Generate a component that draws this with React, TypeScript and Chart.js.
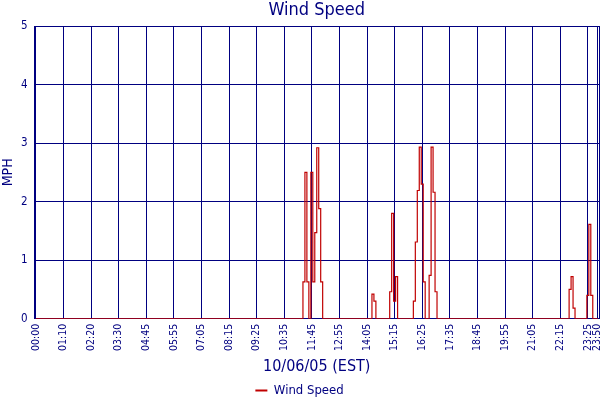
import { useEffect, useRef } from 'react';
import { Chart, registerables } from 'chart.js';

Chart.register(...registerables);

const TITLE = 'Wind Speed';
const X_TITLE = '10/06/05 (EST)';
const Y_TITLE = 'MPH';
const SERIES_NAME = 'Wind Speed';

// Readings every 5 minutes over the day; one slot is absent from the log.
const FIRST_MINUTE = 0;
const LAST_MINUTE = 23 * 60 + 50;
const STEP_MINUTES = 5;
const MISSING_TIMES = ['04:00'];

const TICK_LABELS = [
  '00:00', '01:10', '02:20', '03:30', '04:45', '05:55', '07:05', '08:15', '09:25', '10:35', '11:45',
  '12:55', '14:05', '15:15', '16:25', '17:35', '18:45', '19:55', '21:05', '22:15', '23:25', '23:50',
];

// Non-zero wind readings (MPH); every other reading of the day is 0.
const READING_TIMES = [
  '11:25', '11:30', '11:35', '11:45', '11:50', '11:55', '12:00', '12:05', '12:10',
  '14:20', '14:25',
  '15:05', '15:10', '15:15', '15:20',
  '16:05', '16:10', '16:15', '16:20', '16:25', '16:30',
  '16:45', '16:50', '16:55', '17:00',
  '22:40', '22:45', '22:50',
  '23:25', '23:30', '23:35',
];
const READING_VALUES = [
  0.63, 2.5, 0.63, 2.5, 0.63, 1.47, 2.92, 1.88, 0.63,
  0.42, 0.3,
  0.46, 1.8, 0.3, 0.72,
  0.3, 1.31, 2.19, 2.93, 2.3, 0.63,
  0.74, 2.93, 2.16, 0.46,
  0.5, 0.72, 0.18,
  0.4, 1.61, 0.4,
];

const Y_MIN = 0;
const Y_MAX = 5;
const Y_STEP = 1;

const pad2 = (n: number) => String(n).padStart(2, '0');
const fmt = (m: number) => `${pad2(Math.floor(m / 60))}:${pad2(m % 60)}`;

const CATEGORIES: string[] = [];
for (let m = FIRST_MINUTE; m <= LAST_MINUTE; m += STEP_MINUTES) {
  const t = fmt(m);
  if (!MISSING_TIMES.includes(t)) CATEGORIES.push(t);
}
const VALUES = CATEGORIES.map((t) => {
  const k = READING_TIMES.indexOf(t);
  return k >= 0 ? READING_VALUES[k] : 0;
});
const TICK_INDICES = TICK_LABELS.map((t) => CATEGORIES.indexOf(t));

const NAVY = '#000080';
const RED = '#c00000';
const FONT = "'DejaVu Sans Condensed', 'DejaVu Sans', sans-serif";

const frame = {
  id: 'frame',
  beforeDatasetsDraw(chart: any) {
    const { ctx, chartArea } = chart;
    ctx.save();
    ctx.strokeStyle = NAVY;
    ctx.lineWidth = 1;
    ctx.beginPath();
    const x = Math.round(chartArea.right) + 0.5;
    ctx.moveTo(x, chartArea.top);
    ctx.lineTo(x, chartArea.bottom);
    ctx.stroke();
    ctx.restore();
  },
};

export default function App() {
  const ref = useRef<HTMLCanvasElement | null>(null);

  useEffect(() => {
    if (!ref.current) return;
    const chart = new Chart(ref.current, {
      type: 'line',
      data: {
        datasets: [
          {
            label: SERIES_NAME,
            data: VALUES.map((v, i) => ({ x: i, y: v })),
            borderColor: RED,
            backgroundColor: RED,
            borderWidth: 1.2,
            pointRadius: 0,
            pointHoverRadius: 0,
            stepped: 'middle',
            fill: false,
          },
        ],
      },
      options: {
        responsive: false,
        animation: false,
        layout: { padding: { left: 0, right: 1, top: 0, bottom: 0 } },
        plugins: {
          title: {
            display: true,
            text: TITLE,
            color: NAVY,
            fullSize: false,
            font: { family: FONT, size: 18, weight: 'normal' },
            padding: { top: 0, bottom: 4.4 },
          },
          legend: {
            position: 'bottom',
            maxHeight: 20,
            labels: {
              color: NAVY,
              font: { family: FONT, size: 13 },
              usePointStyle: true,
              pointStyle: 'line',
              pointStyleWidth: 12,
              padding: 4,
              generateLabels: (c: any) =>
                Chart.defaults.plugins.legend.labels
                  .generateLabels(c)
                  .map((l: any) => ({ ...l, lineWidth: 2 })),
            },
          },
          tooltip: { enabled: false },
        },
        scales: {
          x: {
            type: 'linear',
            min: -0.66,
            max: CATEGORIES.length - 1 + 0.66,
            afterBuildTicks: (scale: any) => {
              scale.ticks = TICK_INDICES.map((v) => ({ value: v }));
            },
            afterFit: (scale: any) => {
              scale.paddingLeft = 0;
              scale.paddingRight = 0;
              scale.height = 61.3;
            },
            ticks: {
              autoSkip: false,
              minRotation: 90,
              maxRotation: 90,
              padding: 5,
              color: NAVY,
              font: { family: FONT, size: 10.5 },
              callback: (v: any) => CATEGORIES[v as number],
            },
            grid: { color: NAVY, lineWidth: 1, drawTicks: false },
            border: { color: NAVY },
            title: {
              display: true,
              text: X_TITLE,
              color: NAVY,
              font: { family: FONT, size: 16 },
              padding: { top: 6, bottom: 4 },
            },
          },
          y: {
            min: Y_MIN,
            max: Y_MAX,
            afterFit: (scale: any) => {
              scale.width = 34.5;
            },
            ticks: {
              stepSize: Y_STEP,
              padding: 7,
              color: NAVY,
              font: { family: FONT, size: 11.5 },
            },
            grid: { color: NAVY, lineWidth: 1, drawTicks: false },
            border: { color: NAVY },
            title: {
              display: true,
              text: Y_TITLE,
              color: NAVY,
              font: { family: FONT, size: 14 },
              padding: { top: 0, bottom: 4 },
            },
          },
        },
      },
      plugins: [frame],
    } as any);
    return () => chart.destroy();
  }, []);

  return (
    <div style={{ position: 'fixed', left: 0, top: 0, width: 600, height: 400, background: '#fff' }}>
      <canvas ref={ref} width={600} height={400} style={{ display: 'block' }} />
    </div>
  );
}
